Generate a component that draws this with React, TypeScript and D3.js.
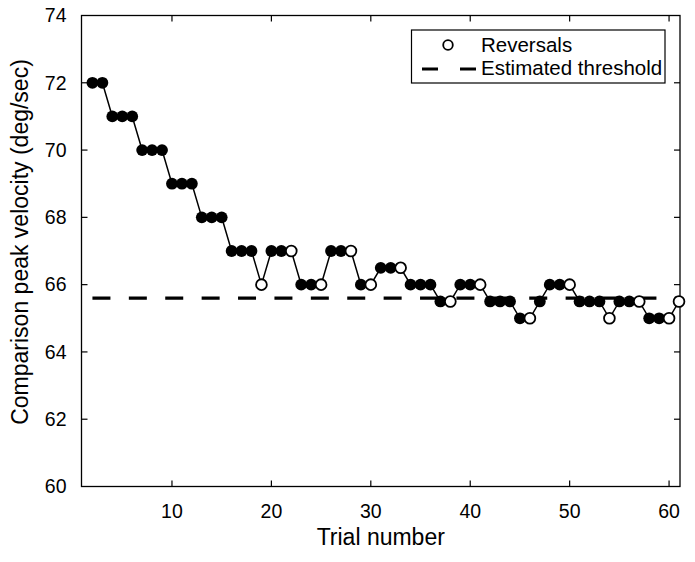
import { useEffect, useRef } from "react";
import * as d3 from "d3";

// staircase data
const trials = [
  2, 3, 4, 5, 6, 7, 8, 9, 10, 11, 12, 13, 14, 15, 16, 17, 18, 19, 20, 21,
  22, 23, 24, 25, 26, 27, 28, 29, 30, 31, 32, 33, 34, 35, 36, 37, 38, 39, 40, 41,
  42, 43, 44, 45, 46, 47, 48, 49, 50, 51, 52, 53, 54, 55, 56, 57, 58, 59, 60, 61,
];
const velocity = [
  72, 72, 71, 71, 71, 70, 70, 70, 69, 69, 69, 68, 68, 68, 67, 67, 67, 66, 67, 67,
  67, 66, 66, 66, 67, 67, 67, 66, 66, 66.5, 66.5, 66.5, 66, 66, 66, 65.5, 65.5, 66, 66, 66,
  65.5, 65.5, 65.5, 65, 65, 65.5, 66, 66, 66, 65.5, 65.5, 65.5, 65, 65.5, 65.5, 65.5, 65, 65, 65, 65.5,
];
const reversal = [
  0, 0, 0, 0, 0, 0, 0, 0, 0, 0, 0, 0, 0, 0, 0, 0, 0, 1, 0, 0,
  1, 0, 0, 1, 0, 0, 1, 0, 1, 0, 0, 1, 0, 0, 0, 0, 1, 0, 0, 1,
  0, 0, 0, 0, 1, 0, 0, 0, 1, 0, 0, 0, 1, 0, 0, 1, 0, 0, 1, 1,
];
const threshold = 65.6;
const xTicks = [10, 20, 30, 40, 50, 60];
const yTicks = [60, 62, 64, 66, 68, 70, 72, 74];
const legendLabels = ["Reversals", "Estimated threshold"];

const W = 695, H = 562;
const margin = { left: 81.5, right: 15, top: 15.5, bottom: 75.5 };
const font = "'Liberation Sans', Arial, Helvetica, sans-serif";

export default function App() {
  const ref = useRef<SVGSVGElement>(null);

  useEffect(() => {
    const svg = d3.select(ref.current);
    svg.selectAll("*").remove();

    const x = d3.scaleLinear().domain([0.9, 61.1]).range([margin.left, W - margin.right]);
    const y = d3.scaleLinear().domain([60, 74]).range([H - margin.bottom, margin.top]);
    const x0 = margin.left, x1 = W - margin.right, y0 = H - margin.bottom, y1 = margin.top;
    const tk = 6;

    const data = trials.map((t, i) => ({ t, v: velocity[i], rev: reversal[i] === 1 }));

    // frame
    svg.append("rect")
      .attr("x", x0).attr("y", y1).attr("width", x1 - x0).attr("height", y0 - y1)
      .attr("fill", "none").attr("stroke", "#000").attr("stroke-width", 1.3);

    // ticks, inward on all four sides
    const ticks = svg.append("g").attr("stroke", "#000").attr("stroke-width", 1.2);
    xTicks.forEach(t => {
      ticks.append("line").attr("x1", x(t)).attr("x2", x(t)).attr("y1", y0).attr("y2", y0 - tk);
      ticks.append("line").attr("x1", x(t)).attr("x2", x(t)).attr("y1", y1).attr("y2", y1 + tk);
    });
    yTicks.slice(1, -1).forEach(t => {
      ticks.append("line").attr("x1", x0).attr("x2", x0 + tk).attr("y1", y(t)).attr("y2", y(t));
      ticks.append("line").attr("x1", x1).attr("x2", x1 - tk).attr("y1", y(t)).attr("y2", y(t));
    });

    svg.append("g").selectAll("text").data(xTicks).enter().append("text")
      .attr("x", d => x(d)).attr("y", 518).attr("text-anchor", "middle")
      .attr("font-family", font).attr("font-size", 19.5).text(d => d);
    svg.append("g").selectAll("text").data(yTicks).enter().append("text")
      .attr("x", 66.5).attr("y", d => y(d)).attr("dy", "0.35em").attr("text-anchor", "end")
      .attr("font-family", font).attr("font-size", 19.5).text(d => d);

    svg.append("text").attr("x", (x0 + x1) / 2).attr("y", 545).attr("text-anchor", "middle")
      .attr("font-family", font).attr("font-size", 23).text("Trial number");
    svg.append("text").attr("transform", `translate(28,242) rotate(-90)`).attr("text-anchor", "middle")
      .attr("font-family", font).attr("font-size", 23).text("Comparison peak velocity (deg/sec)");

    // staircase line
    svg.append("path").datum(data)
      .attr("fill", "none").attr("stroke", "#000").attr("stroke-width", 1.5)
      .attr("d", d3.line<any>().x(d => x(d.t)).y(d => y(d.v)));

    // threshold
    svg.append("line")
      .attr("x1", x(trials[0])).attr("x2", x(trials[trials.length - 1]))
      .attr("y1", y(threshold)).attr("y2", y(threshold))
      .attr("stroke", "#000").attr("stroke-width", 3.2).attr("stroke-dasharray", "18,18.4");

    svg.append("g").selectAll("circle").data(data).enter().append("circle")
      .attr("cx", d => x(d.t)).attr("cy", d => y(d.v))
      .attr("r", d => d.rev ? 5.4 : 5.9)
      .attr("fill", d => d.rev ? "#fff" : "#000")
      .attr("stroke", "#000").attr("stroke-width", d => d.rev ? 1.8 : 0);

    // legend
    const lg = svg.append("g");
    lg.append("rect").attr("x", 411.5).attr("y", 30).attr("width", 253.5).attr("height", 53)
      .attr("fill", "#fff").attr("stroke", "#000").attr("stroke-width", 1.2);
    lg.append("circle").attr("cx", 448).attr("cy", 45).attr("r", 4.8)
      .attr("fill", "#fff").attr("stroke", "#000").attr("stroke-width", 1.8);
    lg.append("line").attr("x1", 422).attr("x2", 476).attr("y1", 69).attr("y2", 69)
      .attr("stroke", "#000").attr("stroke-width", 3.2).attr("stroke-dasharray", "16,22");
    legendLabels.forEach((l, i) => {
      lg.append("text").attr("x", 481).attr("y", 52 + i * 23.3)
        .attr("font-family", font).attr("font-size", 20.5).text(l);
    });
  }, []);

  return (
    <svg ref={ref} width={W} height={H}
      style={{ position: "absolute", left: 0, top: 0, background: "#fff" }} />
  );
}
